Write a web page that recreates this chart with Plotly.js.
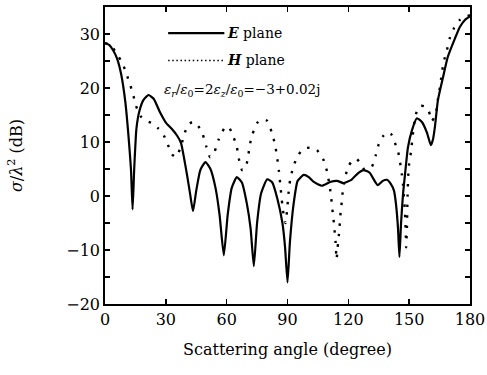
<!DOCTYPE html>
<html>
<head>
<meta charset="utf-8">
<script src="https://cdn.plot.ly/plotly-3.0.1.min.js"></script>
<style>html,body{margin:0;padding:0;background:#fff}#chart{width:487px;height:375px}</style>
</head>
<body>
<div id="chart"></div>
<script>
// Scattering angle (degree) and RCS sigma/lambda^2 (dB)
const angleE = [0,2,4,6,8,10,11.5,12.8,13.6,14.4,15.5,17,19,21.5,24,27,30,33,35.5,37.5,39,40.5,42,43.4,45,47,49.5,52,54.5,56.5,58.6,60.5,62.5,65,67.5,70,71.8,73.4,75,77,80,82.5,85,87.5,88.8,90,91.2,93,95,98,100.5,103,107,111,114.5,117.5,121.5,125,127.5,130.5,134.5,137,139,141,142.5,143.5,144.5,145.2,146,147,148,149.4,151.4,153.8,156.3,158.8,160.7,161.7,162.7,164.2,166.7,169,172.6,175,177.5,180];
const sigmaE = [28.3,28.0,27.0,25.4,22.5,17.5,11.5,5,-2.5,5,12.5,15.8,17.8,18.7,18.0,15.6,13.6,12.4,11.2,9.8,7,3.8,0.3,-2.8,1,4.8,6.3,5,1.5,-3.5,-11,-3.5,1.5,3.5,2.5,-1.5,-6,-13,-5,0.5,3.1,2.5,-0.5,-5,-9.5,-16,-8.5,-1.5,2.8,3.9,3.5,2.6,1.9,2.6,2.8,2.4,3.0,4.3,4.8,4.3,2.0,2.8,3.0,2.2,1.0,-1.5,-6,-11.3,-5,0.5,4.2,9,12.2,14.4,13.7,11.7,9.4,10.4,12.8,17.8,22,25.7,29.2,31.3,32.6,33.3];

const angleH = [0,2,4,6,8,10,12,13.6,15.2,17.5,20,23,26,28.5,30.7,33,35,37,38.8,40.6,43,45.4,48.2,50,51.8,54,56,59,61,63,65,66,67.6,69,70.5,71.3,72.7,75,77.5,80,82.3,83.8,84.8,85.8,86.6,87.4,88.3,89,89.7,90.5,91.3,92.7,94.7,97,99.6,102,104.5,106.5,108,109.5,110.5,111.4,112,112.6,113.2,113.7,114.2,114.7,115.3,115.8,116.2,116.8,117.4,119.8,122,124,126,127.7,129.5,131.6,133.6,135,137,139,141,142.5,143.5,144.5,145.5,146.4,147,147.4,147.8,148.1,148.3,148.5,148.9,149.2,149.6,150,150.9,152,152.9,154.3,155.8,157.5,159.3,160.3,161.2,162.3,163.7,164.2,165.2,166,167,168.6,170,172,175,177.5,180];
const sigmaH = [28.3,28.1,27.4,26.2,25.0,23.3,21,19.2,16.8,14.8,14,13.5,12.6,11.6,9.8,7.7,7.2,8.7,11,13,13.7,13.3,11.4,9.1,7.2,8.2,10.4,12.6,12.8,11.3,9.1,6.9,4.8,5,7,9.3,11.4,13.5,14.2,13.9,11.7,9.6,7.4,4.5,1.5,-1.5,-4,-5,-3,0.5,3,5.2,7.2,8.4,8.9,8.9,8.5,7.5,6.5,4.5,2.5,0.2,-2,-4,-6.3,-8.5,-11.7,-9.6,-7.4,-5,-3,-1,1.3,5.4,6.5,6.9,6,5,5,5.4,7.6,9.6,11,11.8,11.5,10.5,9.2,8.3,6.3,4,2,-0.2,-2.2,-4.4,-6.7,-9.5,-6,0,4.2,6,8.2,12,14.6,16.2,16.7,16.6,16,15,13.9,14.5,16.3,18,20.2,22.4,24.8,27,29.2,31,32.6,33.2,33.5];

const xTicks = [0,30,60,90,120,150,180];
const yTicks = [-20,-10,0,10,20,30];

const serif = 'DejaVu Serif';

const traces = [
  {x: angleE, y: sigmaE, mode: 'lines', name: 'E plane',
   line: {color: '#000', width: 2.2, shape: 'spline', smoothing: 0.5}, showlegend: false},
  {x: angleH, y: sigmaH, mode: 'lines', name: 'H plane',
   line: {color: '#000', width: 2.4, dash: '2.4px,8px', shape: 'spline', smoothing: 0.5}, showlegend: false}
];

const layout = {
  width: 487, height: 375,
  margin: {l: 105, r: 17, t: 7, b: 71},
  paper_bgcolor: '#fff', plot_bgcolor: '#fff',
  font: {family: serif, size: 16, color: '#000'},
  showlegend: false,
  xaxis: {
    range: [0, 180], tickvals: xTicks, ticktext: xTicks.map(String),
    ticks: 'inside', ticklen: 5, tickwidth: 1.5, tickcolor: '#000',
    showline: true, linewidth: 1.8, linecolor: '#000', mirror: 'ticks',
    showgrid: false, zeroline: false,
    tickfont: {family: serif, size: 16},
    title: {text: 'Scattering angle (degree)', font: {family: serif, size: 16}, standoff: 16}
  },
  yaxis: {
    range: [-20, 35], tickvals: yTicks, ticktext: yTicks.map(v => v < 0 ? '\u2212' + Math.abs(v) : String(v)),
    ticks: 'inside', ticklen: 5, tickwidth: 1.5, tickcolor: '#000',
    showline: true, linewidth: 1.8, linecolor: '#000', mirror: 'ticks',
    showgrid: false, zeroline: false,
    minor: {dtick: 5, ticks: 'inside', ticklen: 5, tickwidth: 1.5, tickcolor: '#000', showgrid: false},
    tickfont: {family: serif, size: 16},
    title: {text: '<i>σ</i>/<i>λ</i><sup>2</sup> (dB)', font: {family: serif, size: 16}, standoff: 40}
  },
  shapes: [
    {type: 'line', xref: 'paper', yref: 'paper', x0: 0.173, x1: 0.327, y0: 0.912, y1: 0.912,
     line: {color: '#000', width: 2.2}},
    {type: 'line', xref: 'paper', yref: 'paper', x0: 0.173, x1: 0.327, y0: 0.82, y1: 0.82,
     line: {color: '#000', width: 1.5, dash: '1.5px,2.6px'}}
  ],
  annotations: [
    {xref: 'paper', yref: 'paper', x: 0.33, y: 0.912, xanchor: 'left', yanchor: 'middle', showarrow: false,
     text: '<b><i>E</i></b> plane', font: {family: serif, size: 14}},
    {xref: 'paper', yref: 'paper', x: 0.33, y: 0.82, xanchor: 'left', yanchor: 'middle', showarrow: false,
     text: '<b><i>H</i></b> plane', font: {family: serif, size: 14}},
    {xref: 'paper', yref: 'paper', x: 0.155, y: 0.72, xanchor: 'left', yanchor: 'middle', showarrow: false,
     text: '<i>ε</i><sub><i>r</i></sub>/<i>ε</i><sub>0</sub>=2<i>ε</i><sub><i>z</i></sub>/<i>ε</i><sub>0</sub>=\u22123+0.02j',
     font: {family: serif, size: 13.5}}
  ]
};

Plotly.newPlot('chart', traces, layout, {displayModeBar: false, staticPlot: true});
</script>
</body>
</html>
